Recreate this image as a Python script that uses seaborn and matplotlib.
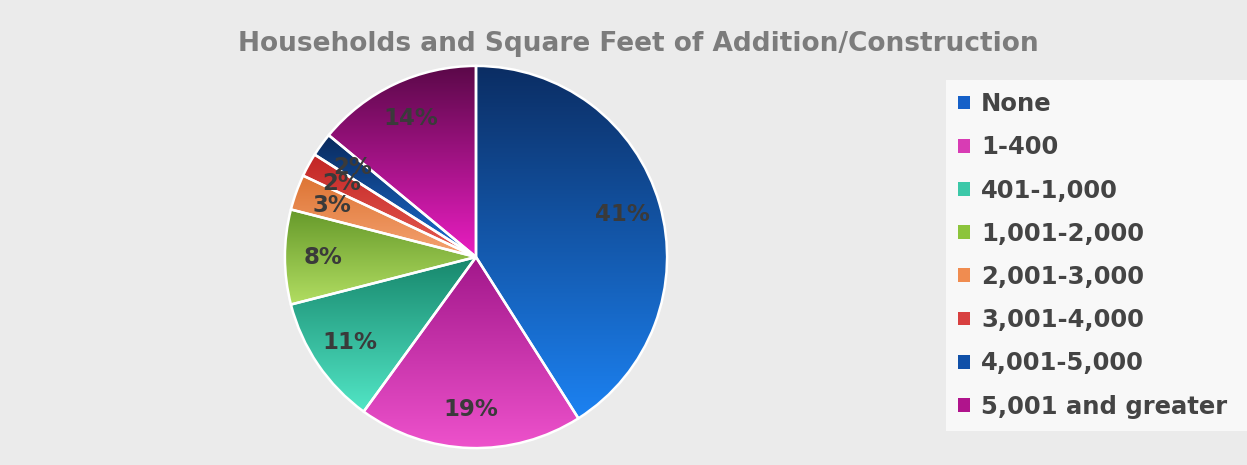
import numpy as np
import matplotlib
matplotlib.use("Agg")
import matplotlib.pyplot as plt
from matplotlib.patches import Patch
from matplotlib.colors import LinearSegmentedColormap
import seaborn as sns

sns.set_theme(style="white")
plt.rcParams['font.family'] = ['DejaVu Sans']

# Data
categories = ["None", "1-400", "401-1,000", "1,001-2,000", "2,001-3,000",
              "3,001-4,000", "4,001-5,000", "5,001 and greater"]
shares = [41, 19, 11, 8, 3, 2, 2, 14]

# Gradient fill per slice: (top colour, bottom colour)
grad_top = ["#0b2d63", "#a1178a", "#17876c", "#66992a", "#dd7433", "#c22525", "#0a2a5c", "#5a0848"]
grad_bot = ["#1c82f2", "#ee52cc", "#52e6c6", "#b2de62", "#f5a372", "#e65c52", "#1b6fd6", "#ea1ec2"]
legend_cols = ["#1560c8", "#d83cb4", "#3cc8a8", "#8cc43c", "#f08c50", "#d84040", "#1050a8", "#b0148c"]

W, H = 1247, 465
fig = plt.figure(figsize=(W / 100, H / 100), dpi=100, facecolor="#ebebeb")

cx, cy, r = 476, 257, 193
ax = fig.add_axes([(cx - r) / W, (H - cy - r) / H, 2 * r / W, 2 * r / H])
ax.set_facecolor("none")

wedges, texts, autotexts = ax.pie(
    shares, startangle=90, counterclock=False, radius=1,
    autopct=lambda p: f"{p:.0f}%", pctdistance=0.8,
    wedgeprops=dict(edgecolor="white", linewidth=1.8, facecolor="none"),
    textprops=dict(fontsize=16.5, fontweight="bold", color="#3a3a3a"),
)
ax.set_aspect("equal")
ax.axis("off")

grad = np.linspace(0, 1, 256).reshape(-1, 1)
for w, c0, c1 in zip(wedges, grad_top, grad_bot):
    verts = w.get_patch_transform().transform(w.get_path().vertices)
    x0, y0 = verts.min(axis=0)
    x1, y1 = verts.max(axis=0)
    cmap = LinearSegmentedColormap.from_list("g", [c1, c0])
    im = ax.imshow(grad, cmap=cmap, extent=[x0, x1, y0, y1], origin="lower",
                   aspect="auto", zorder=1, interpolation="bicubic")
    im.set_clip_path(w)
    w.set_zorder(2)
for t in autotexts:
    t.set_zorder(3)
ax.set_xlim(-1.01, 1.01)
ax.set_ylim(-1.01, 1.01)

fig.text(638 / W, 1 - 44 / H, "Households and Square Feet of Addition/Construction",
         ha="center", va="center", fontsize=19, fontweight="bold", color="#7c7c7c")

handles = [Patch(facecolor=c, edgecolor="none") for c in legend_cols]
leg = fig.legend(handles, categories, loc="upper left", mode="expand",
                 bbox_to_anchor=(946 / W, 1 - 428 / H, (W - 946) / W, (428 - 80) / H),
                 frameon=True, fancybox=False,
                 facecolor="#f8f8f8", edgecolor="none", framealpha=1,
                 handlelength=0.5, handleheight=0.5, handletextpad=0.45,
                 labelspacing=0.79, borderpad=0.5, borderaxespad=0,
                 prop=dict(size=17.5, weight="bold"))
for t in leg.get_texts():
    t.set_color("#444444")

fig.savefig("out.png", dpi=100, facecolor=fig.get_facecolor())
